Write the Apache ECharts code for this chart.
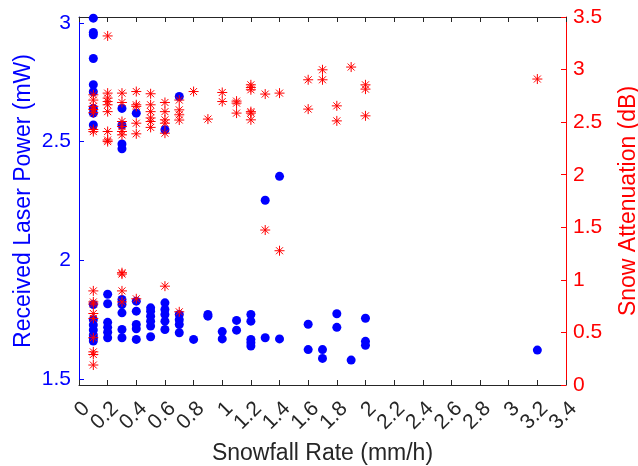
<!DOCTYPE html>
<html>
<head>
<meta charset="utf-8">
<script src="https://cdn.jsdelivr.net/npm/echarts@6.0.0/dist/echarts.min.js"></script>
<style>
html,body{margin:0;padding:0;background:#fff;}
#chart{width:638px;height:466px;}
</style>
</head>
<body>
<div id="chart"></div>
<script>
// Received laser power (mW) vs snowfall rate (mm/h)
var blueRate = [
  0.1,0.1,0.1,0.1,0.1,0.1,0.1,0.1,0.1,0.1,0.1,0.1,0.1,0.1,0.1,0.1,
  0.2,0.2,0.2,0.2,0.2,0.2,
  0.3,0.3,0.3,0.3,0.3,0.3,0.3,0.3,0.3,
  0.4,0.4,0.4,0.4,0.4,0.4,
  0.5,0.5,0.5,0.5,0.5,0.5,
  0.6,0.6,0.6,0.6,0.6,0.6,
  0.7,0.7,0.7,0.7,0.7,
  0.8,
  0.9,0.9,
  1.0,1.0,
  1.1,1.1,
  1.2,1.2,1.2,1.2,1.2,
  1.3,1.3,
  1.4,1.4,
  1.6,1.6,
  1.7,1.7,
  1.8,1.8,
  1.9,
  2.0,2.0,2.0,
  3.2
];
var bluePower = [
  3.02,2.96,2.95,2.85,2.74,2.71,2.64,2.62,2.57,1.814,1.75,1.728,1.707,1.686,1.672,1.66,
  1.857,1.817,1.739,1.718,1.697,1.674,
  2.64,2.57,2.49,2.47,1.835,1.814,1.779,1.709,1.674,
  2.62,1.828,1.786,1.73,1.712,1.667,
  1.80,1.786,1.765,1.744,1.723,1.678,
  2.55,1.821,1.793,1.772,1.744,1.709,
  2.69,1.772,1.75,1.73,1.695,
  1.667,
  1.772,1.765,
  1.70,1.669,
  1.747,1.706,
  1.772,1.744,1.667,1.653,1.639,
  2.253,1.674,
  2.354,1.669,
  1.731,1.624,
  1.624,1.587,
  1.775,1.718,
  1.58,
  1.756,1.659,1.642,
  1.622
];
// Snow attenuation (dB) vs snowfall rate (mm/h)
var redRate = [
  0.1,0.1,0.1,0.1,0.1,0.1,0.1,0.1,0.1,0.1,0.1,0.1,0.1,0.1,0.1,0.1,
  0.2,0.2,0.2,0.2,0.2,0.2,0.2,0.2,0.2,
  0.3,0.3,0.3,0.3,0.3,0.3,0.3,0.3,0.3,0.3,
  0.4,0.4,0.4,0.4,0.4,0.4,
  0.5,0.5,0.5,0.5,0.5,0.5,
  0.6,0.6,0.6,0.6,0.6,0.6,
  0.7,0.7,0.7,0.7,0.7,
  0.8,
  0.9,
  1.0,1.0,
  1.1,1.1,1.1,
  1.2,1.2,1.2,1.2,1.2,1.2,
  1.3,1.3,
  1.4,1.4,
  1.6,1.6,
  1.7,1.7,
  1.8,1.8,
  1.9,
  2.0,2.0,2.0,
  3.2
];
var redAtten = [
  2.76,2.71,2.65,2.62,2.59,2.43,2.41,0.895,0.79,0.77,0.68,0.633,0.45,0.315,0.29,0.19,
  3.32,2.776,2.729,2.696,2.665,2.60,2.411,2.33,2.315,
  2.776,2.687,2.506,2.458,2.411,2.379,1.068,1.055,0.895,0.79,
  2.791,2.665,2.65,2.49,2.389,0.82,
  2.77,2.665,2.60,2.54,2.506,2.45,
  2.687,2.60,2.522,2.49,2.395,0.94,
  2.71,2.617,2.57,2.52,0.696,
  2.791,
  2.529,
  2.782,2.696,
  2.70,2.681,2.586,
  2.855,2.83,2.808,2.60,2.586,2.522,
  2.767,1.474,
  2.776,1.277,
  2.903,2.624,
  2.998,2.903,
  2.655,2.512,
  3.024,
  2.855,2.814,2.56,
  2.91
];
var xTickLabelsA = [0, 0.4, 0.8, 1.2, 1.6, 2, 2.4, 2.8, 3.2];
var xTickLabelsB = [0.2, 0.6, 1, 1.4, 1.8, 2.2, 2.6, 3, 3.4];
var xRange = {min: 0, max: 3.4, step: 0.2};
var leftTicks = [1.5, 2, 2.5, 3];
var rightRange = {min: 0, max: 3.5, step: 0.5};

var FONT = 'Liberation Sans, Arial, Helvetica, sans-serif';
var DARK = '#262626';
function zip(a, b){ return a.map(function(v,i){ return [v, b[i]]; }); }
function fmt(v){ return String(+(+v).toFixed(2)); }

var xLabelStyle = {show: true, rotate: 45, hideOverlap: false,
  align: 'right', verticalAlign: 'top', margin: 13,
  fontSize: 21, fontFamily: FONT, color: DARK, formatter: fmt};

var chart = echarts.init(document.getElementById('chart'), null, {renderer: 'canvas'});
chart.setOption({
  animation: false,
  backgroundColor: '#ffffff',
  grid: {left: 79, right: 72, top: 17, bottom: 81, containLabel: false, outerBoundsMode: 'none'},
  xAxis: [{
    type: 'value', position: 'bottom',
    min: xRange.min, max: xRange.max, interval: xRange.step,
    axisLine: {show: true, onZero: false, lineStyle: {color: DARK, width: 1}},
    axisTick: {show: true, inside: true, length: 5, lineStyle: {color: DARK, width: 1}},
    axisLabel: Object.assign({customValues: xTickLabelsA}, xLabelStyle),
    splitLine: {show: false},
    name: 'Snowfall Rate (mm/h)', nameLocation: 'middle', nameGap: 57, nameMoveOverlap: false,
    nameTextStyle: {fontSize: 23, fontFamily: FONT, color: DARK}
  }, {
    type: 'value', position: 'bottom', offset: 0,
    min: xRange.min, max: xRange.max, interval: xRange.step,
    axisLine: {show: false, onZero: false},
    axisTick: {show: false},
    axisLabel: Object.assign({customValues: xTickLabelsB}, xLabelStyle),
    splitLine: {show: false}
  }, {
    type: 'value', position: 'top',
    min: xRange.min, max: xRange.max, interval: xRange.step,
    axisLine: {show: true, onZero: false, lineStyle: {color: DARK, width: 1}},
    axisTick: {show: true, inside: true, length: 5, lineStyle: {color: DARK, width: 1}},
    axisLabel: {show: false},
    splitLine: {show: false}
  }],
  yAxis: [{
    type: 'value', position: 'left',
    min: 1.475, max: 3.025,
    axisLine: {show: true, onZero: false, lineStyle: {color: '#0000FF', width: 1}},
    axisTick: {show: true, inside: true, length: 5, customValues: leftTicks, lineStyle: {color: '#0000FF', width: 1}},
    axisLabel: {show: true, customValues: leftTicks, margin: 8, fontSize: 21, fontFamily: FONT, color: '#0000FF', formatter: fmt},
    splitLine: {show: false},
    name: 'Received Laser Power (mW)', nameLocation: 'middle', nameGap: 44, nameRotate: 90, nameMoveOverlap: false,
    nameTextStyle: {fontSize: 23, fontFamily: FONT, color: '#0000FF'}
  }, {
    type: 'value', position: 'right',
    min: rightRange.min, max: rightRange.max, interval: rightRange.step,
    axisLine: {show: true, onZero: false, lineStyle: {color: '#FF0000', width: 1}},
    axisTick: {show: true, inside: true, length: 5, lineStyle: {color: '#FF0000', width: 1}},
    axisLabel: {show: true, margin: 7, fontSize: 21, fontFamily: FONT, color: '#FF0000', formatter: fmt},
    splitLine: {show: false},
    name: 'Snow Attenuation (dB)', nameLocation: 'middle', nameGap: 51, nameRotate: 90, nameMoveOverlap: false,
    nameTextStyle: {fontSize: 23, fontFamily: FONT, color: '#FF0000'}
  }],
  series: [{
    type: 'scatter', xAxisIndex: 0, yAxisIndex: 0,
    symbol: 'circle', symbolSize: 9,
    itemStyle: {color: '#0000FF', opacity: 1},
    data: zip(blueRate, bluePower)
  }, {
    type: 'scatter', xAxisIndex: 0, yAxisIndex: 1,
    symbol: 'path://M5,0L5,10M0,5L10,5M1.5,1.5L8.5,8.5M1.5,8.5L8.5,1.5',
    symbolSize: 10,
    itemStyle: {color: 'rgba(0,0,0,0)', borderColor: '#FF0000', borderWidth: 1, opacity: 1},
    data: zip(redRate, redAtten)
  }]
});
</script>
</body>
</html>
